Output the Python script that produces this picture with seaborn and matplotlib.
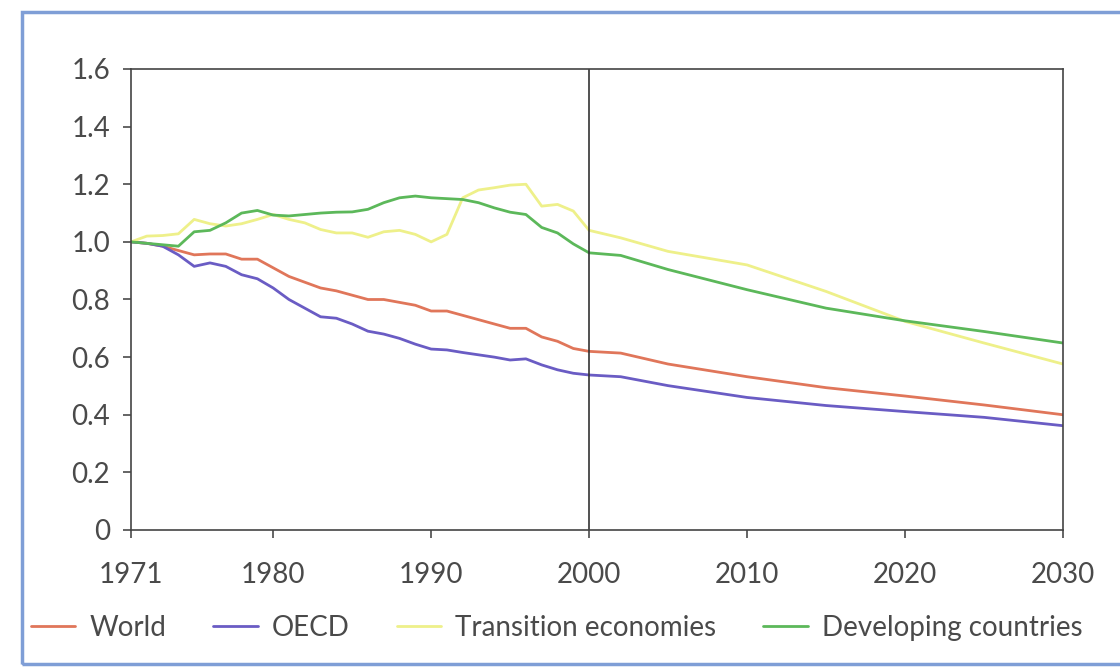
import pandas as pd
import numpy as np
import matplotlib.pyplot as plt
import seaborn as sns
from matplotlib.patches import Rectangle

# history (annual) and projection years
hist_years = list(range(1971, 2001))
proj_years = [2002, 2005, 2010, 2015, 2020, 2025, 2030]

world_hist = [1.00, 0.995, 0.985, 0.97, 0.955, 0.958, 0.958, 0.94, 0.94, 0.91,
              0.88, 0.86, 0.84, 0.83, 0.815, 0.80, 0.80, 0.79, 0.78, 0.76,
              0.76, 0.745, 0.73, 0.715, 0.70, 0.70, 0.67, 0.655, 0.63, 0.62]
world_proj = [0.614, 0.576, 0.532, 0.494, 0.465, 0.434, 0.40]

oecd_hist = [1.00, 0.995, 0.985, 0.955, 0.915, 0.927, 0.915, 0.886, 0.872, 0.84,
             0.80, 0.77, 0.74, 0.735, 0.715, 0.69, 0.68, 0.665, 0.645, 0.628,
             0.625, 0.616, 0.608, 0.60, 0.59, 0.594, 0.573, 0.556, 0.544, 0.538]
oecd_proj = [0.532, 0.501, 0.46, 0.432, 0.411, 0.391, 0.362]

trans_hist = [1.00, 1.02, 1.022, 1.028, 1.078, 1.063, 1.055, 1.063, 1.078, 1.095,
              1.078, 1.066, 1.043, 1.031, 1.031, 1.016, 1.035, 1.04, 1.026, 1.00,
              1.026, 1.153, 1.18, 1.188, 1.197, 1.20, 1.124, 1.13, 1.107, 1.04]
trans_proj = [1.014, 0.967, 0.92, 0.828, 0.724, 0.649, 0.576]

dev_hist = [1.00, 0.995, 0.99, 0.985, 1.035, 1.04, 1.066, 1.10, 1.109, 1.093,
            1.09, 1.095, 1.10, 1.103, 1.104, 1.113, 1.136, 1.153, 1.159, 1.153,
            1.15, 1.147, 1.136, 1.118, 1.103, 1.095, 1.05, 1.031, 0.993, 0.962]
dev_proj = [0.953, 0.904, 0.834, 0.77, 0.726, 0.689, 0.649]

labels = ['World', 'OECD', 'Transition economies', 'Developing countries']
colors = ['#e0765a', '#6a5cc4', '#eef08a', '#5cb85a']

years = hist_years + proj_years
series = [world_hist + world_proj, oecd_hist + oecd_proj,
          trans_hist + trans_proj, dev_hist + dev_proj]
df = pd.concat([pd.DataFrame({'year': years, 'value': s, 'region': lab})
                for lab, s in zip(labels, series)], ignore_index=True)

sns.set_theme(style='white')
plt.rcParams['font.family'] = ['Lato', 'DejaVu Sans']
txt = '#4a4a4a'

fig = plt.figure(figsize=(11.2, 6.7), dpi=100)
ax = fig.add_axes([131 / 1120, 1 - 530 / 670, (1063 - 131) / 1120, (530 - 69) / 670])

sns.lineplot(data=df, x='year', y='value', hue='region', hue_order=labels,
             palette=dict(zip(labels, colors)), linewidth=2.0, ax=ax, legend=False)

ax.axvline(2000, color='#333333', linewidth=1.2)
ax.set_xlim(1971, 2030)
ax.set_ylim(0, 1.6)
ax.set_xticks([1971, 1980, 1990, 2000, 2010, 2020, 2030])
ax.set_yticks(np.arange(0, 1.61, 0.2))
ax.set_yticklabels(['0', '0.2', '0.4', '0.6', '0.8', '1.0', '1.2', '1.4', '1.6'])
ax.set_xlabel('')
ax.set_ylabel('')
ax.tick_params(axis='both', labelsize=20, colors=txt, length=6, width=1.2,
               direction='out', left=True, bottom=True)
ax.tick_params(axis='x', pad=17)
ax.tick_params(axis='y', pad=9)
for sp in ax.spines.values():
    sp.set_color('#444444')
    sp.set_linewidth(1.2)

handles = [plt.Line2D([], [], color=c, linewidth=2.0) for c in colors]
fig.legend(handles, labels, loc='center', bbox_to_anchor=(0.497, 1 - 628 / 670),
           ncol=4, frameon=False, fontsize=20, handlelength=1.6,
           handletextpad=0.5, columnspacing=1.7, labelcolor=txt)

fig.patches.append(Rectangle((22 / 1120, 1 - 664 / 670), 1.1, (664 - 12) / 670,
                             transform=fig.transFigure, fill=False,
                             edgecolor='#7f9ed6', linewidth=2.5))

fig.savefig('out.png', dpi=100)
